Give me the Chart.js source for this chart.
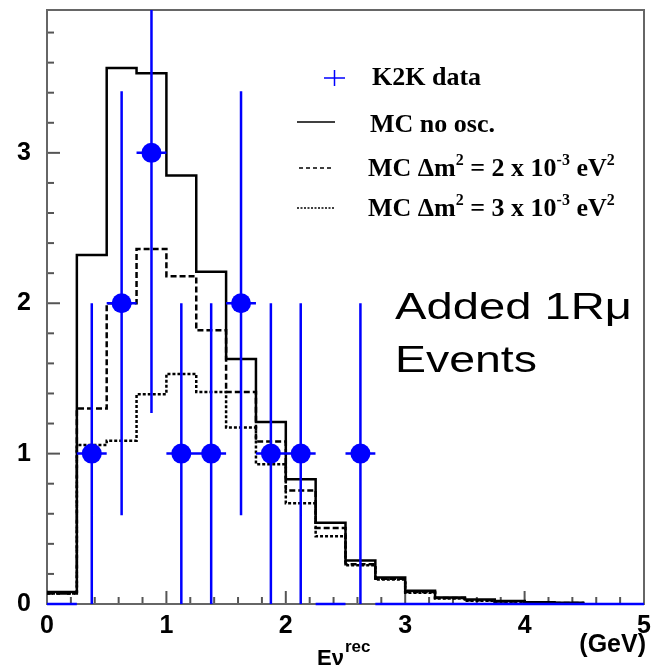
<!DOCTYPE html>
<html lang="en">
<head>
    <meta charset="UTF-8">
    <title>K2K 1R mu events</title>
    <script src="https://cdn.jsdelivr.net/npm/chart.js"></script>
    <style>
        body { margin: 0; background: #fff; }
        canvas { display: block; }
    </style>
</head>
<body>
    <canvas id="k2kChart" width="654" height="669"></canvas>

    <script>
        // MC histograms: lower bin edges (GeV) and bin contents
        const mcEdges = [0, 0.25, 0.5, 0.75, 1.0, 1.25, 1.5, 1.75, 2.0, 2.25, 2.5, 2.75, 3.0, 3.25, 3.5, 3.75, 4.0, 4.25, 4.5];
        const mcNoOsc = [0.08, 2.32, 3.565, 3.53, 2.85, 2.21, 1.63, 1.21, 0.83, 0.54, 0.29, 0.177, 0.088, 0.044, 0.03, 0.02, 0.012, 0.008];
        const mcDm2 = [0.07, 1.30, 2.00, 2.36, 2.18, 1.82, 1.41, 1.08, 0.755, 0.505, 0.265, 0.168, 0.08, 0.04, 0.025, 0.016, 0.01, 0.006];
        const mcDm3 = [0.07, 1.058, 1.086, 1.395, 1.53, 1.41, 1.174, 0.93, 0.67, 0.45, 0.258, 0.163, 0.074, 0.036, 0.021, 0.013, 0.008, 0.005];

        // K2K data: bin centres, counts, errors
        const dataCenters = [0.125, 0.375, 0.625, 0.875, 1.125, 1.375, 1.625, 1.875, 2.125, 2.375, 2.625, 2.875, 3.125, 3.375, 3.625, 3.875, 4.125, 4.375, 4.625, 4.875];
        const dataCounts = [0, 1, 2, 3, 1, 1, 2, 1, 1, 0, 1, 0, 0, 0, 0, 0, 0, 0, 0, 0];
        const dataErrors = [0, 1, 1.41, 1.73, 1, 1, 1.41, 1, 1, 0, 1, 0, 0, 0, 0, 0, 0, 0, 0, 0];
        const binHalfWidth = 0.125;

        const xTicks = [0, 1, 2, 3, 4, 5];
        const yTicks = [0, 1, 2, 3];

        const sansFont = "'Liberation Sans', Arial, sans-serif";
        const serifFont = "'Liberation Serif', 'Times New Roman', serif";
        const blue = '#0000ff';

        function histPoints(values) {
            const pts = values.map((v, i) => ({ x: mcEdges[i], y: v }));
            pts.push({ x: mcEdges[values.length], y: values[values.length - 1] });
            return pts;
        }

        const vBars = [], hBars = [], markers = [];
        dataCenters.forEach((c, i) => {
            const n = dataCounts[i];
            hBars.push({ x: c - binHalfWidth, y: n }, { x: c + binHalfWidth, y: n }, { x: c, y: null });
            if (n > 0) {
                vBars.push({ x: c, y: n - dataErrors[i] }, { x: c, y: n + dataErrors[i] }, { x: c, y: null });
                markers.push({ x: c, y: n });
            }
        });

        // frame and inward ticks, ROOT style
        const framePlugin = {
            id: 'frame',
            beforeDatasetsDraw(chart) {
                const { ctx, chartArea: a, scales: { x, y } } = chart;
                ctx.save();
                ctx.strokeStyle = '#555';
                ctx.lineWidth = 2;
                for (let i = 0; i <= 25; i++) {
                    const px = x.getPixelForValue(i * 0.2);
                    const len = (i % 5 === 0) ? 13 : 7;
                    ctx.beginPath();
                    ctx.moveTo(px, a.bottom);
                    ctx.lineTo(px, a.bottom - len);
                    ctx.stroke();
                }
                for (let i = 0; i <= 19; i++) {
                    const py = y.getPixelForValue(i * 0.2);
                    const len = (i % 5 === 0) ? 13 : 7;
                    ctx.beginPath();
                    ctx.moveTo(a.left, py);
                    ctx.lineTo(a.left + len, py);
                    ctx.stroke();
                }
                ctx.strokeStyle = '#666';
                ctx.strokeRect(a.left, a.top, a.right - a.left, a.bottom - a.top);
                ctx.restore();
            }
        };

        function drawSup(ctx, parts, x, y) {
            // parts: [text, isSuperscript]
            let cx = x;
            parts.forEach(([t, sup]) => {
                ctx.font = sup ? 'bold 16px ' + serifFont : 'bold 26px ' + serifFont;
                ctx.fillText(t, cx, sup ? y - 11 : y);
                cx += ctx.measureText(t).width;
            });
        }

        const textPlugin = {
            id: 'texts',
            afterDraw(chart) {
                const ctx = chart.ctx;
                ctx.save();
                ctx.fillStyle = '#000';
                ctx.textBaseline = 'alphabetic';
                ctx.textAlign = 'left';

                // legend
                ctx.strokeStyle = blue;
                ctx.lineWidth = 1.5;
                ctx.beginPath();
                ctx.moveTo(324, 78); ctx.lineTo(345, 78);
                ctx.moveTo(334.5, 70); ctx.lineTo(334.5, 86);
                ctx.stroke();
                ctx.strokeStyle = '#000';
                ctx.beginPath();
                ctx.moveTo(297, 122); ctx.lineTo(335, 122);
                ctx.stroke();
                ctx.setLineDash([4, 3]);
                ctx.beginPath();
                ctx.moveTo(299, 168); ctx.lineTo(333, 168);
                ctx.stroke();
                ctx.setLineDash([2, 1.5]);
                ctx.beginPath();
                ctx.moveTo(297, 208); ctx.lineTo(334, 208);
                ctx.stroke();
                ctx.setLineDash([]);

                ctx.font = 'bold 26px ' + serifFont;
                ctx.fillText('K2K data', 372, 85);
                ctx.fillText('MC no osc.', 370, 132);
                drawSup(ctx, [['MC \u0394m', false], ['2', true], [' = 2 x 10', false], ['-3', true], [' eV', false], ['2', true]], 368, 176);
                drawSup(ctx, [['MC \u0394m', false], ['2', true], [' = 3 x 10', false], ['-3', true], [' eV', false], ['2', true]], 368, 216);

                // annotation
                ctx.font = '36px ' + sansFont;
                ctx.save();
                ctx.translate(395, 319);
                ctx.scale(1.31, 1);
                ctx.fillText('Added 1R\u03bc', 0, 0);
                ctx.restore();
                ctx.save();
                ctx.translate(395, 372);
                ctx.scale(1.29, 1);
                ctx.fillText('Events', 0, 0);
                ctx.restore();

                // axis title
                ctx.font = 'bold 22px ' + sansFont;
                ctx.fillText('E\u03bd', 317, 665);
                const w = ctx.measureText('E\u03bd').width;
                ctx.font = 'bold 17px ' + sansFont;
                ctx.fillText('rec', 317 + w + 1, 652);
                ctx.font = 'bold 25px ' + sansFont;
                ctx.textAlign = 'right';
                ctx.fillText('(GeV)', 646, 652);
                ctx.restore();
            }
        };

        function noPadding(s) {
            s.paddingTop = 0;
            s.paddingBottom = 0;
            s.paddingLeft = 0;
            s.paddingRight = 0;
        }

        const ctx = document.getElementById('k2kChart').getContext('2d');
        new Chart(ctx, {
            type: 'line',
            data: {
                datasets: [
                    {
                        label: 'K2K data',
                        type: 'scatter',
                        data: markers,
                        pointRadius: 10,
                        pointHoverRadius: 10,
                        pointBackgroundColor: blue,
                        pointBorderWidth: 0,
                        order: 0
                    },
                    {
                        label: 'vertical errors',
                        data: vBars,
                        borderColor: blue,
                        borderWidth: 2.5,
                        pointRadius: 0,
                        spanGaps: false,
                        fill: false,
                        clip: { left: 4, right: 4, top: 0, bottom: 4 },
                        order: 1
                    },
                    {
                        label: 'horizontal errors',
                        data: hBars,
                        borderColor: blue,
                        borderWidth: 2.5,
                        pointRadius: 0,
                        spanGaps: false,
                        fill: false,
                        clip: { left: 4, right: 4, top: 0, bottom: 4 },
                        order: 1
                    },
                    {
                        label: 'MC no osc.',
                        data: histPoints(mcNoOsc),
                        stepped: 'before',
                        borderColor: '#000',
                        borderWidth: 2.5,
                        pointRadius: 0,
                        fill: false,
                        order: 2
                    },
                    {
                        label: 'MC dm2 = 2e-3',
                        data: histPoints(mcDm2),
                        stepped: 'before',
                        borderColor: '#000',
                        borderWidth: 2.5,
                        borderDash: [6, 3],
                        pointRadius: 0,
                        fill: false,
                        order: 3
                    },
                    {
                        label: 'MC dm2 = 3e-3',
                        data: histPoints(mcDm3),
                        stepped: 'before',
                        borderColor: '#000',
                        borderWidth: 2.5,
                        borderDash: [3, 2],
                        pointRadius: 0,
                        fill: false,
                        order: 4
                    }
                ]
            },
            options: {
                responsive: false,
                animation: false,
                events: [],
                layout: { padding: { top: 7, right: 7, left: 0, bottom: 0 } },
                plugins: {
                    legend: { display: false },
                    tooltip: { enabled: false }
                },
                scales: {
                    x: {
                        type: 'linear',
                        min: 0,
                        max: 5,
                        afterFit: s => { s.height = 65; noPadding(s); },
                        afterBuildTicks: s => { s.ticks = xTicks.map(v => ({ value: v })); },
                        ticks: {
                            padding: 7,
                            color: '#000',
                            font: { family: sansFont, size: 25, weight: 'bold' },
                            maxRotation: 0
                        },
                        grid: { display: false, drawTicks: false },
                        border: { display: false }
                    },
                    y: {
                        min: 0,
                        max: 3.95,
                        afterFit: s => { s.width = 47; noPadding(s); },
                        afterBuildTicks: s => { s.ticks = yTicks.map(v => ({ value: v })); },
                        ticks: {
                            padding: 16,
                            color: '#000',
                            font: { family: sansFont, size: 25, weight: 'bold' }
                        },
                        grid: { display: false, drawTicks: false },
                        border: { display: false }
                    }
                }
            },
            plugins: [framePlugin, textPlugin]
        });
    </script>
</body>
</html>
